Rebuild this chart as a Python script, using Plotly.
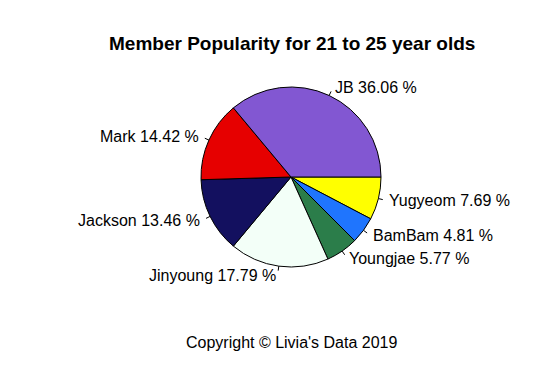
import math
import plotly.graph_objects as go

members = ["JB", "Mark", "Jackson", "Jinyoung", "Youngjae", "BamBam", "Yugyeom"]
percents = [36.06, 14.42, 13.46, 17.79, 5.77, 4.81, 7.69]
colors = ["#8257D2", "#E60000", "#13105F", "#F3FFF8", "#2B7D4A", "#1F75FE", "#FFFF00"]

W, H = 545, 372
CX, CY, R = 291, 177, 90  # pixel geometry of the pie

fig = go.Figure()
# R draws counterclockwise from 3 o'clock; equivalently clockwise with reversed order
fig.add_trace(go.Pie(
    labels=members[::-1], values=percents[::-1], sort=False, direction="clockwise",
    rotation=90, textinfo="none", hoverinfo="label+value",
    marker=dict(colors=colors[::-1], line=dict(color="black", width=1)),
    domain=dict(x=[(CX - R) / W, (CX + R) / W], y=[(H - CY - R) / H, (H - CY + R) / H]),
    showlegend=False,
))

def px(x, y):
    return x / W, 1 - y / H

total = sum(percents)
cum = 0.0
annotations = []
shapes = []
for name, p in zip(members, percents):
    mid = 2 * math.pi * (cum + p / 2) / total
    cum += p
    c, s = math.cos(mid), math.sin(mid)
    x0, y0 = px(CX + R * c, CY - R * s)
    x1, y1 = px(CX + 1.05 * R * c, CY - 1.05 * R * s)
    shapes.append(dict(type="line", xref="paper", yref="paper", x0=x0, y0=y0, x1=x1, y1=y1,
                       line=dict(color="black", width=1)))
    tx, ty = px(CX + 1.1 * R * c, CY - 1.1 * R * s)
    annotations.append(dict(text=f"{name} {p:.2f} %", x=tx, y=ty, xref="paper", yref="paper",
                            xanchor="left" if c > 0 else "right", yanchor="middle",
                            showarrow=False, font=dict(size=16, color="black")))

tx, ty = px(292, 43)
annotations.append(dict(text="<b>Member Popularity for 21 to 25 year olds</b>", x=tx, y=ty,
                        xref="paper", yref="paper", xanchor="center", yanchor="middle",
                        showarrow=False, font=dict(size=19, color="black")))
tx, ty = px(292, 342)
annotations.append(dict(text="Copyright © Livia's Data 2019", x=tx, y=ty,
                        xref="paper", yref="paper", xanchor="center", yanchor="middle",
                        showarrow=False, font=dict(size=16, color="black")))

fig.update_layout(
    width=W, height=H, margin=dict(l=0, r=0, t=0, b=0),
    paper_bgcolor="white", plot_bgcolor="white",
    font=dict(family="Liberation Sans, Arial, sans-serif"),
    annotations=annotations, shapes=shapes,
)
fig.write_html("out.html")
